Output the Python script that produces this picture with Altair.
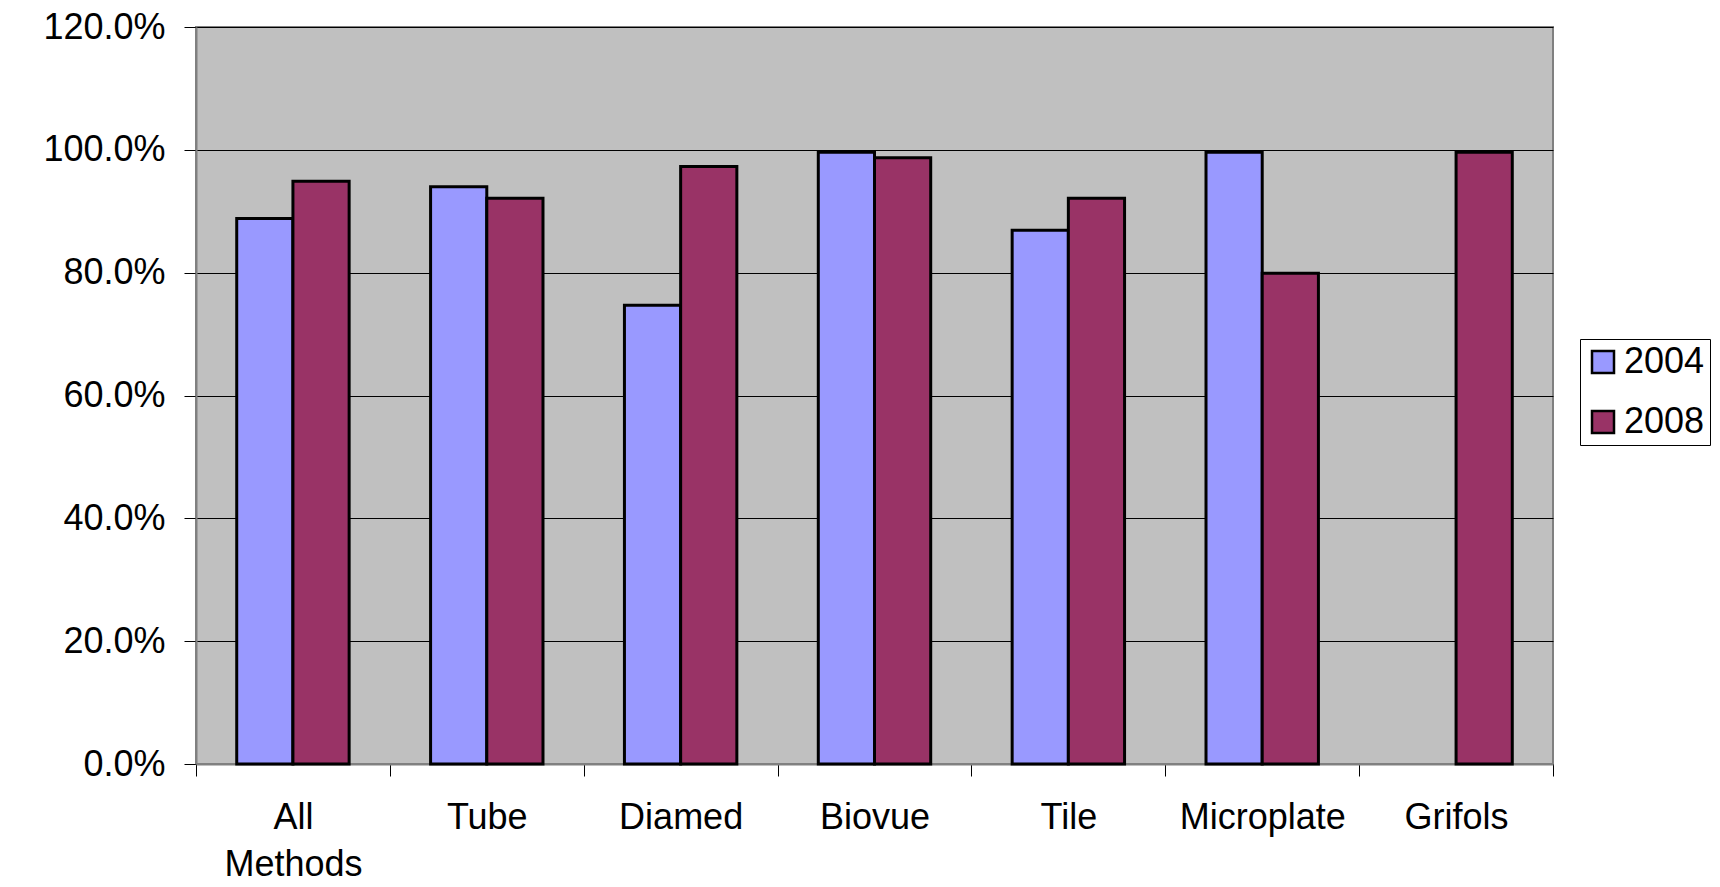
import altair as alt
import pandas as pd

categories = ["All Methods", "Tube", "Diamed", "Biovue", "Tile", "Microplate", "Grifols"]
years = ["2004", "2008"]
values_2004 = [88.8, 94.0, 74.7, 99.6, 86.9, 99.6, None]
values_2008 = [94.9, 92.1, 97.3, 98.7, 92.1, 79.9, 99.6]
y_ticks = [0, 20, 40, 60, 80, 100, 120]
colors = ["#9999FF", "#993366"]

rows = []
for c, a, b in zip(categories, values_2004, values_2008):
    rows.append({"method": c, "year": "2004", "value": a})
    rows.append({"method": c, "year": "2008", "value": b})
df = pd.DataFrame(rows)

FONT = "Liberation Sans"

chart = alt.Chart(df).mark_bar(stroke="black", strokeWidth=3).encode(
    x=alt.X(
        "method:N", sort=categories, title=None,
        scale=alt.Scale(paddingInner=0, paddingOuter=0),
        axis=alt.Axis(
            labelAngle=0, labelFontSize=36, labelFont=FONT, labelColor="black",
            labelExpr="split(datum.label, ' ')", labelLineHeight=47, labelPadding=24,
            labelBaseline="top", tickBand="extent", tickSize=12, tickColor="black",
            tickWidth=1, domainColor="#808080", domainWidth=2, grid=False,
        ),
    ),
    xOffset=alt.XOffset("year:N", sort=years,
                        scale=alt.Scale(paddingInner=0, paddingOuter=0.7245)),
    y=alt.Y(
        "value:Q", title=None,
        scale=alt.Scale(domain=[0, 120], nice=False),
        axis=alt.Axis(
            values=y_ticks, labelExpr="format(datum.value, '.1f') + '%'",
            labelFontSize=36, labelFont=FONT, labelColor="black", labelPadding=19,
            tickSize=12, tickColor="black", tickWidth=1,
            domainColor="#808080", domainWidth=2,
            grid=True, gridColor="black", gridWidth=1,
        ),
    ),
    color=alt.Color(
        "year:N", sort=years,
        scale=alt.Scale(domain=years, range=colors),
        legend=alt.Legend(
            title=None, orient="none", legendX=1384, legendY=312,
            labelFontSize=36, labelFont=FONT, labelColor="black",
            symbolType="square", symbolSize=484, symbolStrokeColor="black",
            symbolStrokeWidth=2.5, symbolOpacity=1,
            strokeColor="black", fillColor="white", padding=5,
            rowPadding=24, labelOffset=3,
        ),
    ),
).properties(
    width=1357, height=737,
    autosize=alt.AutoSizeParams(type="none"),
    padding={"left": 188, "top": 19, "right": 159, "bottom": 115},
).configure(font=FONT).configure_view(
    fill="#C0C0C0", stroke="#808080", strokeWidth=2
)

chart.save("out.html", embed_options={"renderer": "svg", "actions": False})
